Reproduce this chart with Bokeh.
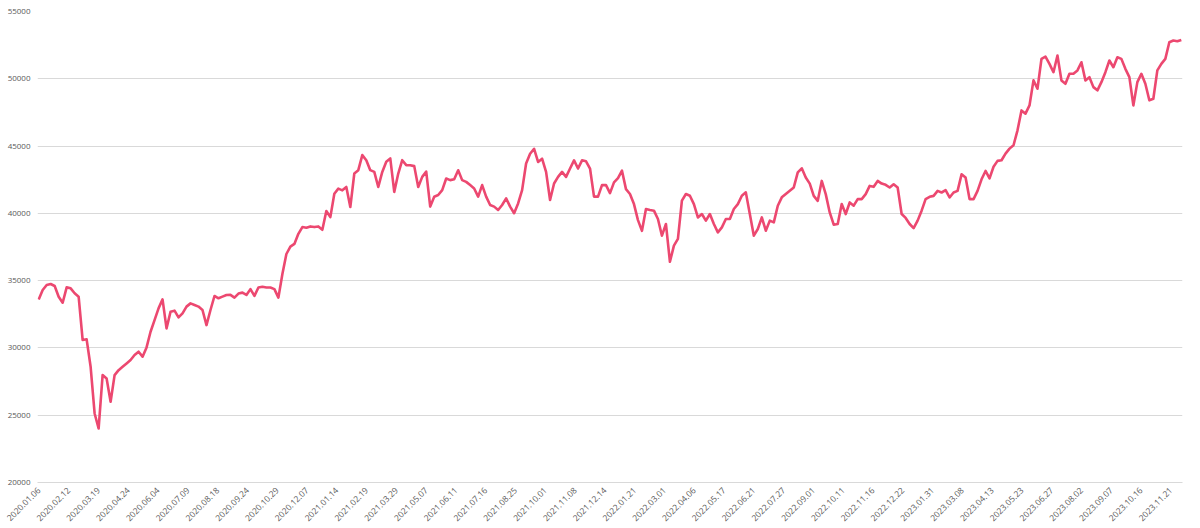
import numpy as np
from bokeh.plotting import figure
from bokeh.models import Range1d, FixedTicker, ColumnDataSource, BoxAnnotation, Node
from bokeh.embed import file_html
from bokeh.resources import INLINE

# ---- data ----
tick_labels = [
    "2020.01.06", "2020.02.12", "2020.03.19", "2020.04.24", "2020.06.04", "2020.07.09",
    "2020.08.18", "2020.09.24", "2020.10.29", "2020.12.07", "2021.01.14", "2021.02.19",
    "2021.03.29", "2021.05.07", "2021.06.11", "2021.07.16", "2021.08.25", "2021.10.01",
    "2021.11.08", "2021.12.14", "2022.01.21", "2022.03.01", "2022.04.06", "2022.05.17",
    "2022.06.21", "2022.07.27", "2022.09.01", "2022.10.11", "2022.11.16", "2022.12.22",
    "2023.01.31", "2023.03.08", "2023.04.13", "2023.05.23", "2023.06.27", "2023.08.02",
    "2023.09.07", "2023.10.16", "2023.11.21",
]
days_per_label = 25
n_days = 960

y_ticks = [20000, 25000, 30000, 35000, 40000, 45000, 50000, 55000]

values = [
    # 2020
    33600, 34300, 34680, 34750, 34600, 33800, 33360, 34500, 34430, 34060,
    33810, 30590, 30640, 28600, 25130, 24010, 27980, 27730, 26000, 27980,
    28350, 28600, 28850, 29100, 29470, 29720, 29350, 30040, 31200, 32070,
    32940, 33610, 31450, 32690, 32770, 32270, 32570, 33070, 33310, 33190,
    33070, 32820, 31700, 32820, 33860, 33690, 33810, 33930,
    33940, 33740, 34040, 34110, 33940, 34370, 33870, 34490, 34540, 34490,
    34490, 34370, 33740, 35490, 36980, 37530, 37730, 38480, 38980, 38930,
    39030, 38980, 39030, 38780, 40170, 39720, 41460, 41840, 41710, 41960,
    40470, 42960, 43210, 44330, 43950, 43210, 43080, 41960, 43080, 43830,
    44080, 41590, 42960, 43950, 43580, 43580, 43510, 41960,
    # 2021 mid
    42710, 43100, 40500, 41240, 41360, 41730, 42590, 42470, 42540, 43200,
    42470, 42340, 42100, 41850, 41240, 42100, 41240, 40620, 40500, 40250,
    40620, 41110, 40500, 40010, 40740, 41730, 43700, 44430, 44800, 43820,
    44060, 43080, 40990, 42220, 42710, 43080, 42710, 43330, 43940, 43330,
    43940, 43870, 43330, 41240, 41240, 42100, 42100,
    # 2022
    41500, 42300, 42620, 43170, 41800, 41440, 40690, 39500, 38700, 40320,
    40250, 40200, 39580, 38340, 39210, 36400, 37600, 38100, 40940, 41440,
    41310, 40690, 39700, 39950, 39460, 39950, 39210, 38590, 38960, 39580,
    39580, 40320, 40690, 41310, 41560, 39950, 38340, 38840, 39700, 38710,
    39460, 39330, 40570, 41190, 41440, 41680, 41930, 43040,
    43350, 42660, 42210, 41300, 40930, 42410, 41430, 40070, 39160, 39210,
    40690, 39950, 40810, 40570, 41060, 41060, 41430, 42040, 41970, 42410,
    42210, 42120, 41920, 42160, 41920, 39950, 39660, 39210, 38900, 39460,
    40200, 41060, 41230, 41300, 41670, 41550, 41720, 41180, 41550, 41670,
    42900, 42660, 41060, 41060, 41670, 42530, 43150,
    # 2023
    42600, 43460, 43900, 43950, 44440, 44810, 45060, 46170, 47650, 47410,
    48020, 49880, 49260, 51480, 51650, 51110, 50490, 51730, 49880, 49630,
    50370, 50370, 50620, 51230, 49880, 50120, 49380, 49140, 49750, 50490,
    51360, 50860, 51600, 51480, 50740, 50120, 48020, 49750, 50370, 49630,
    48400, 48520, 50620, 51110, 51480, 52720, 52840, 52790, 52890,
]

# sample positions in trading-day index space (evenly spaced samples)
x = np.linspace(0, n_days - 1, len(values))
source = ColumnDataSource(data=dict(x=x, y=values))

tick_pos = [i * days_per_label for i in range(len(tick_labels))]

p = figure(
    width=1200, height=528,
    output_backend="svg", toolbar_location=None,
    x_range=Range1d(-1, n_days), y_range=Range1d(y_ticks[0], y_ticks[-1]),
    min_border_left=37, min_border_right=18, min_border_top=11, min_border_bottom=46,
)
p.outline_line_color = None
p.background_fill_color = "white"
p.border_fill_color = "white"

p.line("x", "y", source=source, line_color="#EC4870", line_width=2.6, line_join="round")

# y axis
p.yaxis.ticker = FixedTicker(ticks=y_ticks)
p.yaxis.axis_line_color = None
p.yaxis.major_tick_line_color = None
p.yaxis.minor_tick_line_color = None
p.yaxis.major_tick_out = 0
p.yaxis.major_tick_in = 0
p.yaxis.minor_tick_out = 0
p.yaxis.major_label_standoff = 7
p.yaxis.major_label_text_font = "Open Sans"
p.yaxis.major_label_text_font_size = "8px"
p.yaxis.major_label_text_color = "#595959"

# x axis
p.xaxis.ticker = FixedTicker(ticks=tick_pos)
p.xaxis.major_label_overrides = {t: lab for t, lab in zip(tick_pos, tick_labels)}
p.xaxis.major_label_orientation = np.pi / 4
p.xaxis.axis_line_color = "#d9d9d9"
p.xaxis.major_tick_line_color = None
p.xaxis.minor_tick_line_color = None
p.xaxis.major_tick_out = 0
p.xaxis.major_tick_in = 0
p.xaxis.minor_tick_out = 0
p.xaxis.major_label_standoff = 6
p.xaxis.major_label_text_font = "Open Sans"
p.xaxis.major_label_text_font_size = "8.5px"
p.xaxis.major_label_text_color = "#595959"

p.xgrid.grid_line_color = None
p.ygrid.ticker = FixedTicker(ticks=y_ticks)
p.ygrid.grid_line_color = "#d9d9d9"
p.ygrid.grid_line_width = 1

# light frame around the whole chart
frame_box = BoxAnnotation(
    left=Node(target="canvas", symbol="left", offset=1),
    right=Node(target="canvas", symbol="right", offset=-1),
    top=Node(target="canvas", symbol="top", offset=1),
    bottom=Node(target="canvas", symbol="bottom", offset=-1),
    fill_color=None, fill_alpha=0, line_color="#d9d9d9", line_width=1.5,
    level="underlay",
)
p.add_layout(frame_box)

open("out.html", "w").write(file_html(p, INLINE))
